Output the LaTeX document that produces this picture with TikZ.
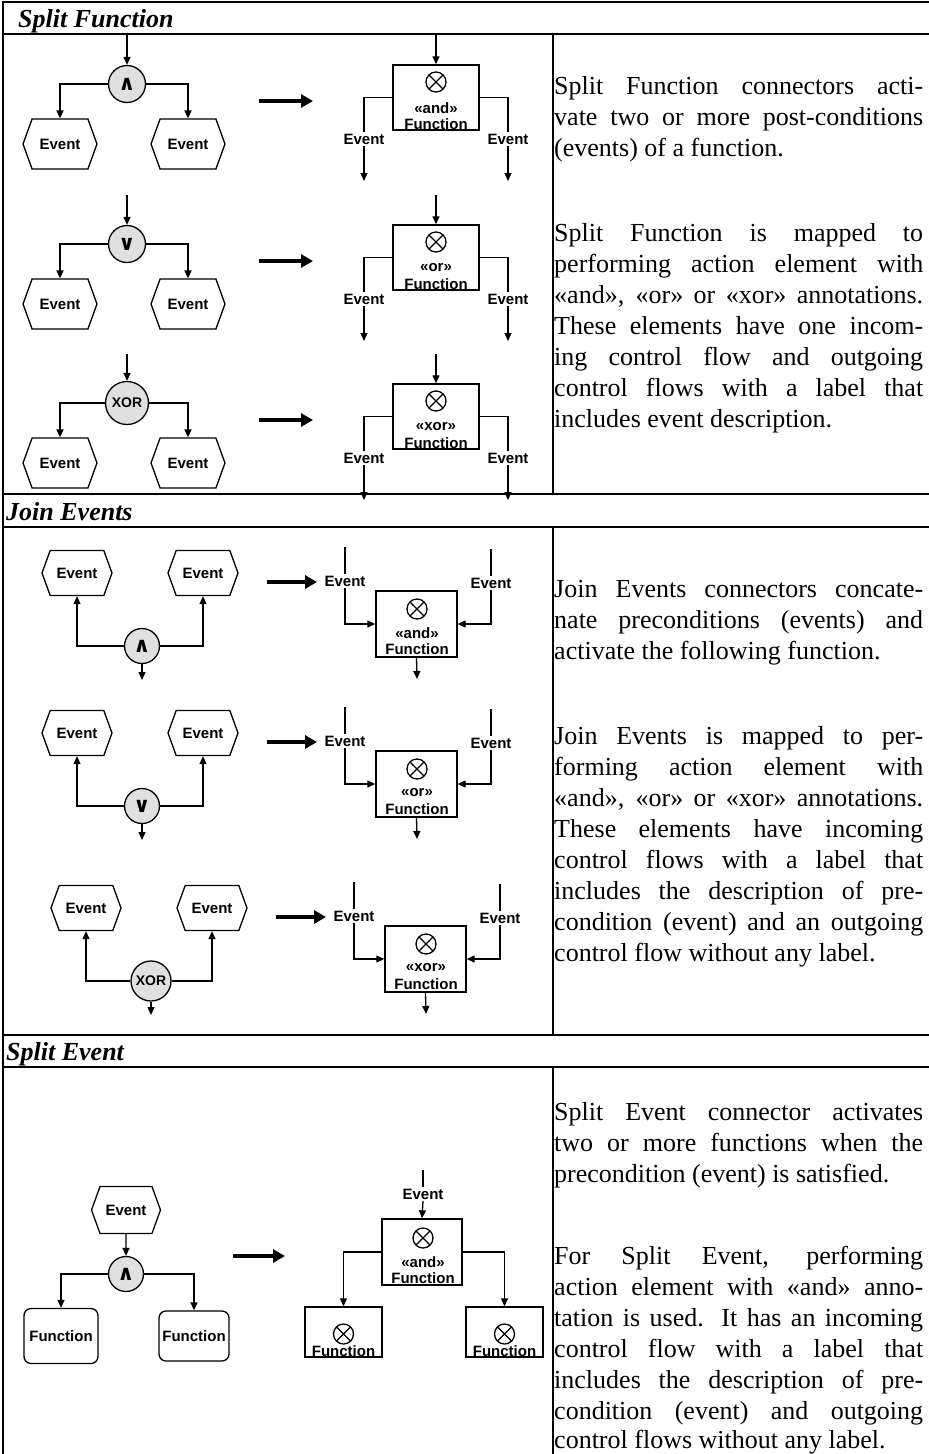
\documentclass[tikz,border=0pt]{standalone}
\usepackage{fontspec}
\setmainfont{Liberation Serif}
\newfontfamily\diagfont{Liberation Sans}
\newfontfamily\symfont{DejaVu Sans}
\usetikzlibrary{arrows.meta,shapes.symbols}

\tikzset{
  rule/.style={line width=1.8pt},
  wire/.style={line width=1.3pt},
  flow/.style={line width=1.3pt, -{Triangle[length=8pt,width=7pt]}},
  maparrow/.style={line width=3.5pt, -{Triangle[length=12pt,width=13pt]}},
  dfont/.style={font=\diagfont\bfseries\fontsize{15}{17}\selectfont},
  event/.style={signal, signal to=east and west, signal pointer angle=140, draw,
    line width=1.3pt, minimum width=74pt, minimum height=50pt, inner sep=0pt, dfont},
  conn/.style={circle, draw, line width=1.3pt, fill=black!12, minimum size=37pt,
    inner sep=0pt, dfont},
  xorconn/.style={conn, minimum size=43pt, font=\diagfont\bfseries\fontsize{14}{16}\selectfont},
  action/.style={rectangle, draw, line width=1.4pt, minimum width=86pt,
    minimum height=65pt, inner sep=0pt},
  otimes/.style={circle, draw, line width=1.3pt, minimum size=20pt, inner sep=0pt,
    path picture={\draw[line width=1.3pt]
      (path picture bounding box.north west) -- (path picture bounding box.south east)
      (path picture bounding box.north east) -- (path picture bounding box.south west);}},
  lbl/.style={inner sep=1.5pt, dfont},
  func/.style={rectangle, rounded corners=7pt, draw, line width=1.3pt,
    minimum width=74pt, minimum height=55pt, dfont},
  txt/.style={anchor=base west, inner sep=0pt, font=\fontsize{26}{31}\selectfont},
  head/.style={anchor=base west, inner sep=0pt, font=\fontsize{26}{31}\selectfont\bfseries\itshape},
}

\newcommand\andsym{{\symfont\bfseries\fontsize{21}{21}\selectfont ∧}}
\newcommand\orsym{{\symfont\bfseries\fontsize{21}{21}\selectfont ∨}}

% justified and last lines of the description column
\newcommand\jline[3]{\node[txt] (#1) at (554,#2) {\makebox[369pt][s]{#3}};}
\newcommand\rline[3]{\node[txt] (#1) at (554,#2) {#3};}

% one row of the "Split Function" block: #1 prefix, #2 offset, #3 connector style, #4 symbol, #5 annotation
\newcommand\SplitFunctionRow[5]{%
\begin{scope}[shift={(0,#2)}, name prefix=#1-]
  \coordinate (in) at (127,35);
  \node[#3] (c) at (127,84) {#4};
  \node[event] (e1) at (60,144) {Event};
  \node[event] (e2) at (188,144) {Event};
  \draw[flow] (in) -- (c);
  \draw[flow] (c.west) -| (e1.north);
  \draw[flow] (c.east) -| (e2.north);
  \coordinate (m1) at (259,101);
  \coordinate (m2) at (313,101);
  \draw[maparrow] (m1) -- (m2);
  \node[action] (f) at (436,97.5) {};
  \coordinate (fin) at (436,35);
  \draw[flow] (fin) -- (f);
  \node[otimes] (x) at (436,82) {};
  \node[lbl] (a) at (436,108) {«#5»};
  \node[lbl, anchor=base] (n) at (436,129) {Function};
  \node[lbl] (l1) at (364,139) {Event};
  \node[lbl] (l2) at (508,139) {Event};
  \coordinate (o1) at (364,181);
  \coordinate (o2) at (508,181);
  \draw[wire] (f.west) -| (l1.north);
  \draw[wire] (f.east) -| (l2.north);
  \draw[flow] (l1.south) -- (o1);
  \draw[flow] (l2.south) -- (o2);
\end{scope}}

% one row of the "Join Events" block: #1 prefix, #2/#3 offset, #4 connector style, #5 symbol, #6 annotation
\newcommand\JoinEventsRow[6]{%
\begin{scope}[shift={(#2,#3)}, name prefix=#1-]
  \node[event, minimum width=70pt, minimum height=45pt] (e1) at (77,573) {Event};
  \node[event, minimum width=70pt, minimum height=45pt] (e2) at (203,573) {Event};
  \node[#4] (c) at (142,646) {#5};
  \coordinate (out) at (142,680);
  \draw[flow] (c.west) -| (e1.south);
  \draw[flow] (c.east) -| (e2.south);
  \draw[flow] (c.south) -- (out);
  \coordinate (m1) at (267,582);
  \coordinate (m2) at (317,582);
  \draw[maparrow] (m1) -- (m2);
  \node[action, minimum width=81pt, minimum height=66pt] (f) at (416.5,624) {};
  \node[otimes] (x) at (417,609) {};
  \node[lbl] (a) at (417,633) {«#6»};
  \node[lbl] (n) at (417,649) {Function};
  \node[lbl] (l1) at (345,581) {Event};
  \node[lbl] (l2) at (491,583) {Event};
  \coordinate (t1) at (345,547);
  \coordinate (t2) at (491,549);
  \draw[wire] (t1) -- (l1.north);
  \draw[wire] (t2) -- (l2.north);
  \draw[flow] (l1.south) |- (f.west);
  \draw[flow] (l2.south) |- (f.east);
  \coordinate (fo) at (417,679);
  \draw[flow] (f.south) -- (fo);
\end{scope}}

\begin{document}
\begin{tikzpicture}[x=1pt,y=-1pt]
\useasboundingbox (0,0) rectangle (929,1454);
\fill[white] (0,0) rectangle (929,1454);

% table rules
\draw[rule] (3,1454) -- (3,2) -- (929,2);
\draw[rule] (3,34) -- (929,34);
\draw[rule] (3,494) -- (929,494);
\draw[rule] (3,527) -- (929,527);
\draw[rule] (3,1035) -- (929,1035);
\draw[rule] (3,1067) -- (929,1067);
\draw[rule] (553,34) -- (553,494);
\draw[rule] (553,527) -- (553,1035);
\draw[rule] (553,1067) -- (553,1454);

% section headings
\node[head] (h1) at (18,27) {Split Function};
\node[head] (h2) at (6,520) {Join Events};
\node[head] (h3) at (6,1060) {Split Event};

% Split Function
\SplitFunctionRow{sfa}{0}{conn}{\andsym}{and}
\SplitFunctionRow{sfo}{160}{conn}{\orsym}{or}
\SplitFunctionRow{sfx}{319}{xorconn}{XOR}{xor}

% Join Events
\JoinEventsRow{jea}{0}{0}{conn, minimum size=35pt}{\andsym}{and}
\JoinEventsRow{jeo}{0}{160}{conn, minimum size=35pt}{\orsym}{or}
\JoinEventsRow{jex}{9}{335}{xorconn, minimum size=40pt}{XOR}{xor}

% Split Event
\node[event, minimum width=69pt, minimum height=47pt] (se) at (126,1210) {Event};
\node[conn, minimum size=35pt] (sc) at (126,1274) {\andsym};
\node[func] (sf1) at (61,1336) {Function};
\node[func, minimum width=68pt, minimum height=50pt] (sf2) at (194,1336) {Function};
\draw[flow] (se) -- (sc);
\draw[flow] (sc.west) -| (sf1.north);
\draw[flow] (sc.east) -| (sf2.north);
\coordinate (sm1) at (233,1256);
\coordinate (sm2) at (285,1256);
\draw[maparrow] (sm1) -- (sm2);
\node[action, minimum width=80pt, minimum height=66pt] (sa) at (422,1252) {};
\node[otimes] (sax) at (423,1238) {};
\node[lbl] (saa) at (423,1262) {«and»};
\node[lbl] (san) at (423,1278) {Function};
\node[lbl] (sl) at (423,1194) {Event};
\coordinate (st) at (423,1170);
\draw[wire] (st) -- (sl.north);
\draw[flow] (sl.south) -- (sa.north);
\node[action, minimum width=77pt, minimum height=50pt] (sb1) at (343.5,1332) {};
\node[action, minimum width=77pt, minimum height=50pt] (sb2) at (504.5,1332) {};
\node[otimes] (sb1x) at (343.5,1334) {};
\node[otimes] (sb2x) at (504.5,1334) {};
\node[lbl, anchor=base] (sb1n) at (343.5,1356) {Function};
\node[lbl, anchor=base] (sb2n) at (504.5,1356) {Function};
\draw[flow] (sa.west) -| (sb1.north);
\draw[flow] (sa.east) -| (sb2.north);

% description column
\jline{a1}{94}{Split Function connectors acti-}
\jline{a2}{125}{vate two or more post-conditions}
\rline{a3}{156}{(events) of a function.}
\jline{a4}{241}{Split Function is mapped to}
\jline{a5}{272}{performing action element with}
\jline{a6}{303}{«and», «or» or «xor» annotations.}
\jline{a7}{334}{These elements have one incom-}
\jline{a8}{365}{ing control flow and outgoing}
\jline{a9}{396}{control flows with a label that}
\rline{a10}{427}{includes event description.}

\jline{b1}{597}{Join Events connectors concate-}
\jline{b2}{628}{nate preconditions (events) and}
\rline{b3}{659}{activate the following function.}
\jline{b4}{744}{Join Events is mapped to per-}
\jline{b5}{775}{forming action element with}
\jline{b6}{806}{«and», «or» or «xor» annotations.}
\jline{b7}{837}{These elements have incoming}
\jline{b8}{868}{control flows with a label that}
\jline{b9}{899}{includes the description of pre-}
\jline{b10}{930}{condition (event) and an outgoing}
\rline{b11}{961}{control flow without any label.}

\jline{c1}{1120}{Split Event connector activates}
\jline{c2}{1151}{two or more functions when the}
\rline{c3}{1182}{precondition (event) is satisfied.}
\jline{c4}{1264}{For Split Event, performing}
\jline{c5}{1295}{action element with «and» anno-}
\jline{c6}{1326}{tation is used. It has an incoming}
\jline{c7}{1357}{control flow with a label that}
\jline{c8}{1388}{includes the description of pre-}
\jline{c9}{1419}{condition (event) and outgoing}
\rline{c10}{1448}{control flows without any label.}
\end{tikzpicture}
\end{document}
